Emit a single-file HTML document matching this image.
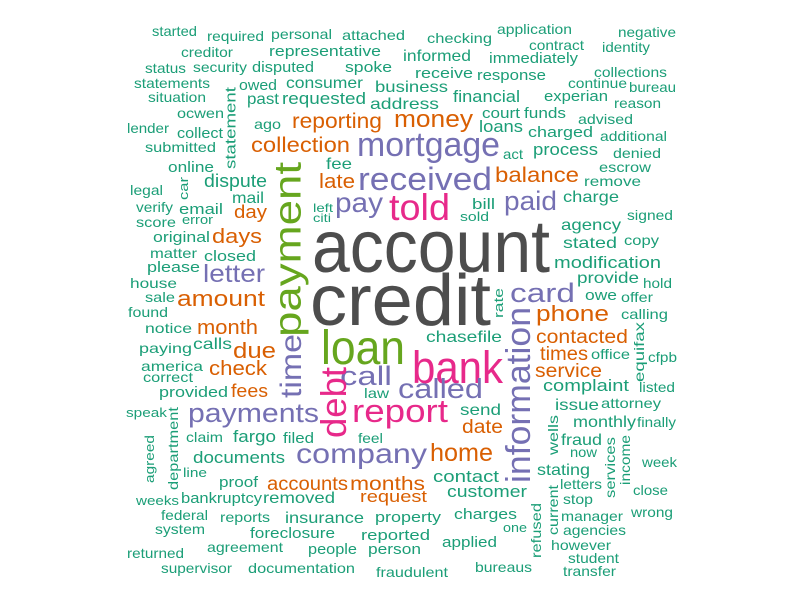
<!DOCTYPE html>
<html><head><meta charset="utf-8"><style>
html,body{margin:0;padding:0;background:#fff;}
svg{display:block;font-family:"Liberation Sans",Arial,sans-serif;}
</style></head><body>
<svg id="cloud" width="800" height="600" viewBox="0 0 800 600"></svg>
<script>
// colour groups (Dark2)
const palette = {t:'#1b9e77', o:'#d95f02', p:'#7570b3', k:'#e7298a', g:'#66a61e', d:'#4d4d4d'};
// horizontal words: text, left x, baseline y, width, font size, colour key
const hWords = [
['account',312,272,238,74,'d'],['credit',310,325,181,72,'d'],
['loan',321,364,84,48,'g'],['bank',412,383,91,45,'k'],['told',389,220,61,37,'k'],['report',352,422,96,32,'k'],
['mortgage',357,156,143,34,'p'],['received',358,190,134,32,'p'],['pay',335,212,48,28,'p'],['paid',504,210,53,27,'p'],
['card',510,302,65,27,'p'],['call',340,385,52,27,'p'],['called',398,398,85,28,'p'],['company',296,463,131,28,'p'],
['payments',188,422,131,27,'p'],['letter',203,282,62,25,'p'],
['money',394,127,79,24,'o'],['reporting',292,128,90,21,'o'],['collection',251,152,99,21,'o'],['balance',495,182,84,21,'o'],
['late',319,188,36,20,'o'],['day',234,218,33,18,'o'],['days',212,243,50,20,'o'],['amount',177,306,88,22,'o'],
['month',197,334,61,20,'o'],['due',233,358,43,22,'o'],['check',209,375,58,20,'o'],['fees',231,397,37,18,'o'],
['phone',536,321,73,22,'o'],['contacted',536,343,92,19,'o'],['times',540,360,48,19,'o'],['service',535,377,67,19,'o'],
['date',462,433,41,19,'o'],['home',430,461,63,25,'o'],['accounts',267,490,81,19,'o'],['months',350,490,75,19,'o'],['request',360,502,67,17,'o'],
['started',152,36,45,14,'t'],['required',207,41,57,14,'t'],['personal',271,39,61,14,'t'],['attached',342,40,63,14,'t'],
['checking',427,43,65,14,'t'],['application',497,34,75,14,'t'],['negative',618,37,58,14,'t'],
['creditor',181,57,52,14,'t'],['representative',269,56,112,15,'t'],['contract',529,50,55,14,'t'],['identity',602,52,48,14,'t'],
['informed',403,61,68,16,'t'],['immediately',489,63,89,15,'t'],
['status',145,73,41,14,'t'],['security',193,72,54,14,'t'],['disputed',252,72,62,15,'t'],['spoke',345,72,47,15,'t'],
['receive',415,78,58,15,'t'],['response',477,80,69,15,'t'],['collections',594,77,73,14,'t'],
['statements',134,88,76,14,'t'],['owed',239,90,38,15,'t'],['consumer',286,88,77,16,'t'],['business',375,92,73,16,'t'],
['continue',568,88,59,14,'t'],['bureau',629,92,47,14,'t'],
['situation',148,102,58,14,'t'],['past',247,104,32,16,'t'],['requested',282,104,84,17,'t'],['address',370,109,69,16,'t'],
['financial',453,102,67,17,'t'],['experian',544,101,64,15,'t'],['reason',614,108,47,14,'t'],
['ocwen',177,118,47,14,'t'],['court',482,118,38,15,'t'],['funds',524,118,42,15,'t'],['advised',578,124,55,14,'t'],
['lender',127,133,42,14,'t'],['collect',177,138,46,15,'t'],['ago',254,129,27,14,'t'],
['loans',479,132,44,17,'t'],['charged',528,137,65,15,'t'],['additional',600,141,67,14,'t'],
['submitted',145,152,71,14,'t'],['act',503,159,20,14,'t'],['process',533,155,65,17,'t'],['denied',613,158,48,14,'t'],
['online',168,172,46,15,'t'],['fee',326,169,26,16,'t'],['escrow',599,172,52,14,'t'],
['dispute',204,187,63,18,'t'],['remove',584,186,57,14,'t'],
['legal',130,195,33,14,'t'],['mail',232,203,32,16,'t'],['charge',563,202,56,16,'t'],
['verify',136,212,37,14,'t'],['email',179,214,44,15,'t'],['left',313,212,20,12,'t'],['bill',472,209,23,15,'t'],
['score',136,227,40,14,'t'],['error',182,224,31,13,'t'],['citi',313,222,18,12,'t'],['sold',460,221,29,13,'t'],
['signed',627,220,46,14,'t'],['agency',561,230,60,16,'t'],
['original',153,242,57,15,'t'],['copy',624,245,35,14,'t'],['stated',563,248,54,16,'t'],
['matter',150,258,47,14,'t'],['closed',204,261,52,15,'t'],['modification',554,268,107,17,'t'],
['please',147,272,53,15,'t'],['provide',577,283,62,16,'t'],['hold',643,288,29,14,'t'],
['house',130,288,47,14,'t'],['owe',585,300,32,15,'t'],['offer',621,302,32,14,'t'],
['sale',145,302,30,14,'t'],['found',128,317,40,14,'t'],['calling',621,319,47,14,'t'],
['notice',145,333,47,14,'t'],['chasefile',426,342,76,16,'t'],
['paying',139,353,53,14,'t'],['calls',193,349,39,16,'t'],['office',591,359,39,14,'t'],['cfpb',648,362,29,14,'t'],
['america',141,371,62,14,'t'],['correct',143,382,50,14,'t'],
['provided',159,397,69,15,'t'],['law',364,398,25,14,'t'],['complaint',543,391,86,17,'t'],['listed',639,392,36,14,'t'],
['speak',126,417,41,13,'t'],['send',460,415,41,16,'t'],['issue',555,410,44,16,'t'],['attorney',601,408,60,14,'t'],
['claim',186,442,37,14,'t'],['fargo',233,442,43,17,'t'],['filed',283,443,31,15,'t'],['feel',358,443,25,14,'t'],
['monthly',573,427,63,16,'t'],['finally',637,427,39,14,'t'],['fraud',561,445,41,16,'t'],['now',570,457,27,14,'t'],
['documents',193,463,92,17,'t'],['week',642,467,35,14,'t'],
['line',183,477,24,13,'t'],['stating',537,475,53,16,'t'],['contact',433,482,66,17,'t'],
['proof',219,487,39,15,'t'],['letters',560,489,42,14,'t'],['close',633,495,35,14,'t'],['customer',447,497,80,17,'t'],
['weeks',136,505,43,13,'t'],['bankruptcy',181,503,81,15,'t'],['removed',263,503,72,16,'t'],['stop',563,504,30,14,'t'],
['federal',161,520,47,14,'t'],['reports',220,522,50,14,'t'],['insurance',285,523,79,16,'t'],['property',375,522,66,15,'t'],
['charges',454,519,63,15,'t'],['manager',561,521,62,14,'t'],['wrong',631,517,42,14,'t'],
['system',155,534,50,14,'t'],['foreclosure',250,538,85,15,'t'],['reported',361,540,69,15,'t'],['one',503,532,24,13,'t'],
['agencies',563,535,63,14,'t'],
['returned',127,558,57,14,'t'],['agreement',207,552,76,14,'t'],['people',308,554,49,15,'t'],['person',368,554,53,15,'t'],
['applied',442,547,55,15,'t'],['however',551,550,60,14,'t'],['student',568,563,51,14,'t'],
['supervisor',161,573,71,14,'t'],['documentation',248,573,107,14,'t'],['fraudulent',376,577,72,14,'t'],
['bureaus',475,572,57,14,'t'],['transfer',563,576,53,14,'t']
];
// vertical words (read bottom-to-top): text, centre x, bottom y, length, font size, colour key
const vWords = [
['payment',289,337,175,38,'g'],['time',292,398,64,30,'p'],['debt',335,438,71,36,'k'],['information',520,483,176,34,'p'],
['statement',231,169,82,15,'t'],['car',184,200,23,13,'t'],['rate',499,318,30,13,'t'],['equifax',640,382,60,14,'t'],
['wells',554,455,40,14,'t'],['services',611,498,61,14,'t'],['income',626,485,50,14,'t'],['current',554,535,50,14,'t'],
['refused',537,558,55,14,'t'],['department',174,490,83,14,'t'],['agreed',150,483,48,13,'t']
];
const NS='http://www.w3.org/2000/svg';
const svg=document.getElementById('cloud');
hWords.forEach(w=>{
  const t=document.createElementNS(NS,'text');
  t.setAttribute('x',w[1]);t.setAttribute('y',w[2]);
  t.setAttribute('textLength',w[3]);t.setAttribute('lengthAdjust','spacingAndGlyphs');
  t.setAttribute('font-size',w[4]);t.setAttribute('fill',palette[w[5]]);
  
  
  t.textContent=w[0];svg.appendChild(t);
});
vWords.forEach(w=>{
  const t=document.createElementNS(NS,'text');
  t.setAttribute('transform','translate('+w[1]+','+w[2]+') rotate(-90)');
  t.setAttribute('x',0);t.setAttribute('y',(w[4]*0.3).toFixed(1));
  t.setAttribute('textLength',w[3]);t.setAttribute('lengthAdjust','spacingAndGlyphs');
  t.setAttribute('font-size',w[4]);t.setAttribute('fill',palette[w[5]]);
  
  
  t.textContent=w[0];svg.appendChild(t);
});
</script>
</body></html>
